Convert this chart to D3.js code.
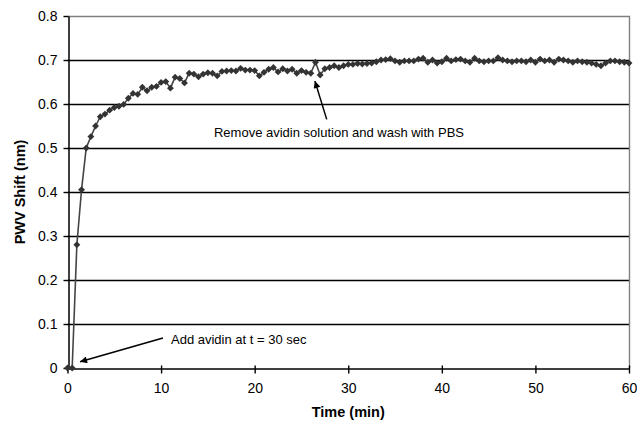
<!DOCTYPE html>
<html>
<head>
<meta charset="utf-8">
<script src="https://cdn.jsdelivr.net/npm/d3@7"></script>
<style>
  html, body { margin: 0; padding: 0; background: #fff; }
  svg { display: block; font-family: "Liberation Sans", Arial, sans-serif; }
</style>
</head>
<body>
<svg id="chart" width="637" height="424"></svg>
<script>
// Sampling times (min), one reading every 30 s
const times = d3.range(0, 60.001, 0.5);

// PWV shift (nm) at each sampling time
const shifts = [
  0.000, 0.000, 0.280, 0.405, 0.500, 0.526, 0.550, 0.571, 0.577, 0.586,
  0.592, 0.595, 0.599, 0.613, 0.624, 0.622, 0.638, 0.630, 0.638, 0.640,
  0.649, 0.651, 0.636, 0.661, 0.658, 0.648, 0.670, 0.668, 0.662, 0.668,
  0.671, 0.670, 0.664, 0.674, 0.675, 0.676, 0.675, 0.681, 0.677, 0.677,
  0.676, 0.664, 0.672, 0.679, 0.683, 0.673, 0.680, 0.675, 0.679, 0.670,
  0.676, 0.672, 0.670, 0.695, 0.666, 0.680, 0.683, 0.687, 0.683, 0.687,
  0.690, 0.690, 0.692, 0.691, 0.692, 0.693, 0.696, 0.700, 0.701, 0.703,
  0.698, 0.695, 0.698, 0.698, 0.698, 0.702, 0.704, 0.695, 0.700, 0.693,
  0.696, 0.704, 0.698, 0.701, 0.702, 0.698, 0.695, 0.704, 0.698, 0.696,
  0.698, 0.698, 0.705, 0.700, 0.698, 0.696, 0.698, 0.698, 0.696, 0.700,
  0.695, 0.702, 0.698, 0.700, 0.695, 0.702, 0.700, 0.698, 0.695, 0.698,
  0.696, 0.695, 0.693, 0.690, 0.687, 0.693, 0.698, 0.698, 0.696, 0.695,
  0.693
];

const xTicks = [0, 10, 20, 30, 40, 50, 60];
const yTicks = [0, 0.1, 0.2, 0.3, 0.4, 0.5, 0.6, 0.7, 0.8];

// Annotations: label text, label anchor and arrow (tail -> head) in data units
const notes = [
  { text: "Add avidin at t = 30 sec", at: [11.06, 0.055], tail: [10.2, 0.068], head: [1.34, 0.014] },
  { text: "Remove avidin solution and wash with PBS", at: [15.65, 0.525], tail: [27.7, 0.565], head: [26.44, 0.652] }
];

const svg = d3.select("#chart");
const x = d3.scaleLinear().domain([0, 60]).range([67.5, 629]);
const y = d3.scaleLinear().domain([0, 0.8]).range([368, 16]);

// Horizontal gridlines
svg.append("g")
  .selectAll("line")
  .data(yTicks.filter(d => d > 0 && d < 0.8))
  .join("line")
  .attr("x1", x(0)).attr("x2", x(60))
  .attr("y1", d => Math.round(y(d)) + 0.5).attr("y2", d => Math.round(y(d)) + 0.5)
  .attr("stroke", "#000").attr("stroke-width", 1.4);

// Plot-area frame on top and right
svg.append("path")
  .attr("d", `M${x(0)},${Math.round(y(0.8)) + 0.5}H${Math.round(x(60)) + 0.5}V${y(0)}`)
  .attr("fill", "none").attr("stroke", "#808080").attr("stroke-width", 1.4);

// Axes
const yAxis = d3.axisLeft(y).tickValues(yTicks)
  .tickFormat(d => d === 0 ? "0" : d3.format(".1f")(d))
  .tickSizeInner(5).tickSizeOuter(0).tickPadding(6);
const xAxis = d3.axisBottom(x).tickValues(xTicks)
  .tickFormat(d3.format("d"))
  .tickSizeInner(5).tickSizeOuter(0).tickPadding(10);

const gy = svg.append("g").attr("transform", `translate(${Math.round(x(0)) + 0.5},0)`).call(yAxis);
const gx = svg.append("g").attr("transform", `translate(0,${Math.round(y(0)) + 0.5})`).call(xAxis);
[gx, gy].forEach(g => {
  g.select(".domain").attr("stroke", "#000").attr("stroke-width", 1.5);
  g.selectAll(".tick line").attr("stroke", "#000").attr("stroke-width", 1.4);
  g.selectAll(".tick text").attr("fill", "#000").attr("font-size", 14)
    .attr("font-family", "Liberation Sans, Arial, sans-serif");
});
gx.selectAll(".tick line").attr("y1", -3);

// Axis titles
svg.append("text")
  .attr("x", (x(0) + x(60)) / 2).attr("y", 417)
  .attr("text-anchor", "middle").attr("font-size", 14.5).attr("font-weight", "bold")
  .text("Time (min)");
svg.append("text")
  .attr("transform", `translate(25,${(y(0) + y(0.8)) / 2}) rotate(-90)`)
  .attr("text-anchor", "middle").attr("font-size", 14.5).attr("font-weight", "bold")
  .text("PWV Shift (nm)");

// Series line and diamond markers
const pts = times.map((t, i) => [t, shifts[i]]);
svg.append("path")
  .datum(pts)
  .attr("fill", "none").attr("stroke", "#444").attr("stroke-width", 1.6)
  .attr("d", d3.line().x(d => x(d[0])).y(d => y(d[1])));
svg.append("g")
  .selectAll("path")
  .data(pts)
  .join("path")
  .attr("transform", d => `translate(${x(d[0])},${y(d[1])})`)
  .attr("d", d3.symbol().type(d3.symbolDiamond2).size(30))
  .attr("fill", "#333");

// Annotation arrows and labels
const defs = svg.append("defs");
defs.append("marker")
  .attr("id", "arrowhead").attr("viewBox", "0 0 10 10")
  .attr("refX", 10).attr("refY", 5)
  .attr("markerWidth", 10).attr("markerHeight", 7)
  .attr("markerUnits", "userSpaceOnUse")
  .attr("orient", "auto")
  .append("path").attr("d", "M0,0L10,5L0,10z").attr("fill", "#000");

const ann = svg.append("g");
ann.selectAll("line")
  .data(notes)
  .join("line")
  .attr("x1", d => x(d.tail[0])).attr("y1", d => y(d.tail[1]))
  .attr("x2", d => x(d.head[0])).attr("y2", d => y(d.head[1]))
  .attr("stroke", "#000").attr("stroke-width", 1.5)
  .attr("marker-end", "url(#arrowhead)");
ann.selectAll("text")
  .data(notes)
  .join("text")
  .attr("x", d => x(d.at[0])).attr("y", d => y(d.at[1]))
  .attr("font-size", 13).attr("fill", "#000")
  .text(d => d.text);
</script>
</body>
</html>
